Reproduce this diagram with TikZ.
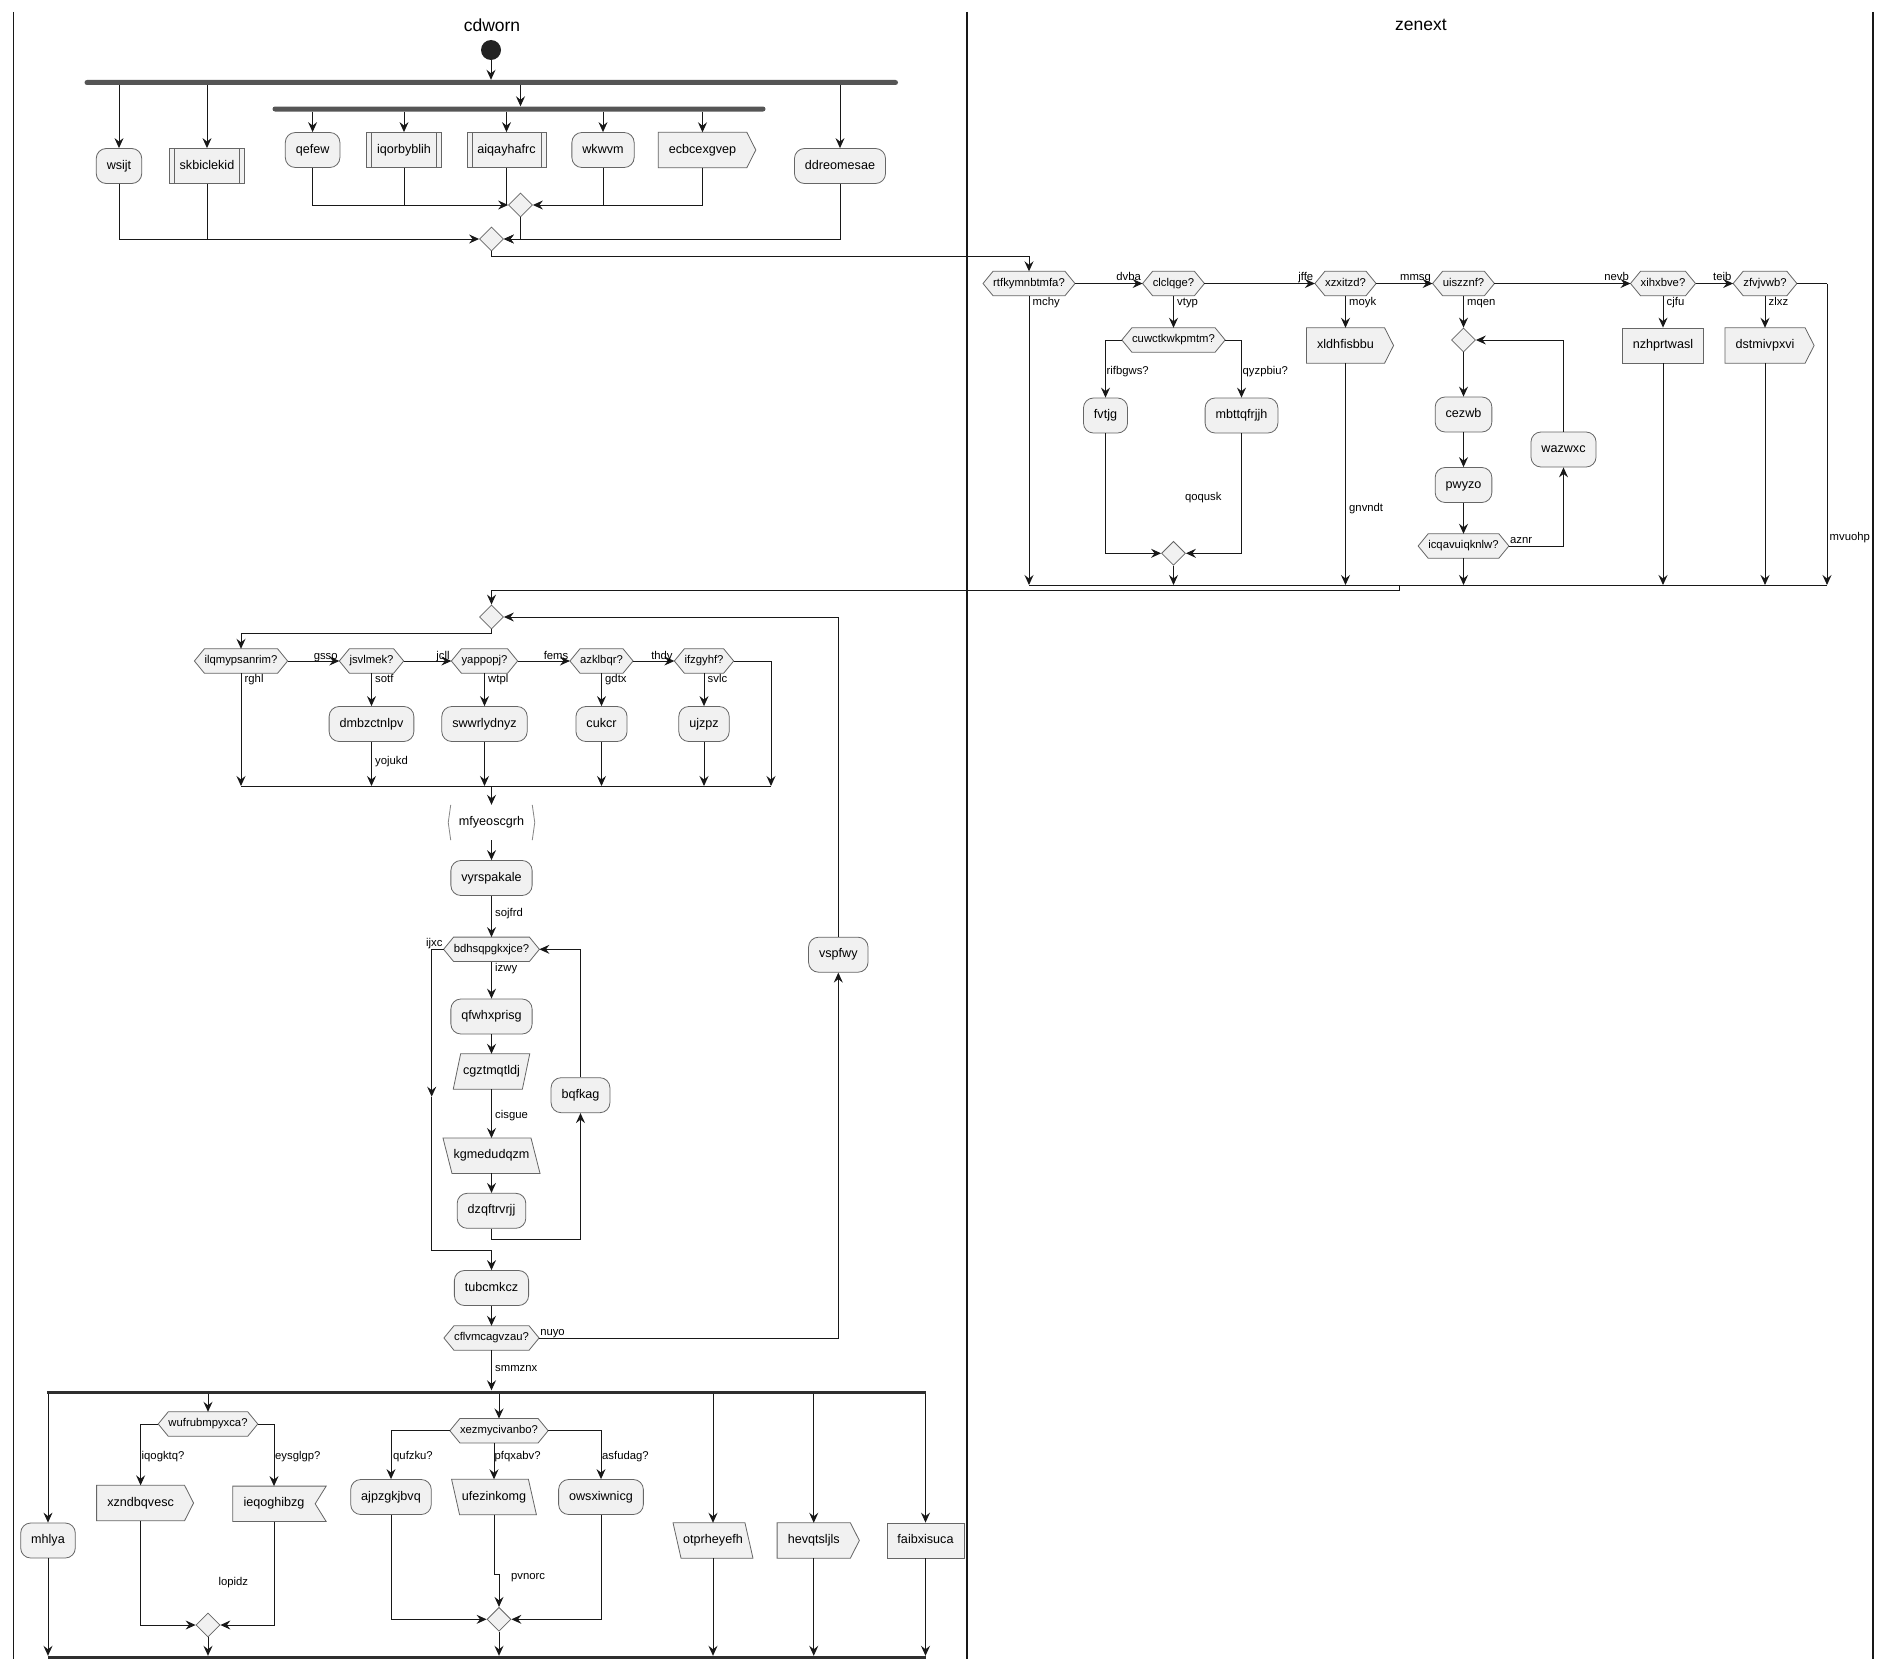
\documentclass[tikz,border=0pt]{standalone}
\usepackage{fontspec}
\setmainfont{Liberation Sans}
\usetikzlibrary{arrows.meta,calc,shapes.geometric}
\pgfdeclarelayer{bg}
\pgfdeclarelayer{paper}
\pgfsetlayers{paper,bg,main}

\definecolor{nfill}{HTML}{F1F1F1}
\definecolor{nline}{HTML}{666666}
\definecolor{wire}{HTML}{181818}
\definecolor{barc}{HTML}{555555}
\definecolor{startc}{HTML}{222222}

\tikzset{
  flow/.style={draw=wire, line width=1pt, -{Stealth[length=10pt,width=9pt,inset=3.5pt]}},
  link/.style={draw=wire, line width=1pt},
  lane/.style={draw=wire, line width=1.3pt},
  txt/.style={font=\fontsize{12.6}{15}\selectfont, text height=9pt, text depth=2.7pt,
              inner xsep=10.5pt, inner ysep=0pt, minimum height=35pt},
  act/.style={txt, draw=nline, fill=nfill, line width=0.8pt, rounded corners=10pt},
  boxnode/.style={txt, draw=nline, fill=nfill, line width=0.8pt},
  subbox/.style={boxnode, path picture={
      \draw[nline, line width=0.8pt]
        ([xshift=5pt]path picture bounding box.north west) -- ([xshift=5pt]path picture bounding box.south west)
        ([xshift=-5pt]path picture bounding box.north east) -- ([xshift=-5pt]path picture bounding box.south east);}},
  bare/.style={txt},
  dec/.style={font=\fontsize{11.3}{13}\selectfont, text height=8.1pt, text depth=2.4pt,
              inner xsep=0pt, inner ysep=0pt, minimum height=24pt},
  lbl/.style={font=\fontsize{11.3}{13}\selectfont, text height=8.1pt, text depth=2.4pt,
              inner sep=0pt, anchor=west},
  mergedia/.style={diamond, draw=nline, fill=nfill, line width=0.8pt,
                   minimum width=24pt, minimum height=24pt, inner sep=0pt},
  shp/.style={draw=nline, fill=nfill, line width=0.8pt},
  brk/.style={draw=nline!80, line width=0.8pt},
  forkbar/.style={rectangle, fill=barc, minimum height=5pt, inner sep=0pt, rounded corners=2.5pt},
  splitbar/.style={rectangle, fill=wire!90, minimum height=3pt, inner sep=0pt},
  lanetitle/.style={font=\fontsize{17.5}{20}\selectfont, inner sep=0pt},
  startdot/.style={circle, fill=startc, minimum size=20pt, inner sep=0pt},
}

% decision hexagon: text node plus outline with pointed ends
\newcommand\hexnode[4]{%
  \node[dec] (#1) at (#2,#3) {#4};
  \coordinate (#1-w) at ($(#1.west)+(-10,0)$);
  \coordinate (#1-e) at ($(#1.east)+(10,0)$);
  \begin{pgfonlayer}{bg}
    \draw[shp] (#1-w) -- (#1.north west) -- (#1.north east) -- (#1-e)
               -- (#1.south east) -- (#1.south west) -- cycle;
  \end{pgfonlayer}}
% box with a point on the right
\newcommand\sendnode[4]{%
  \node[bare] (#1) at (#2,#3) {#4};
  \begin{pgfonlayer}{bg}
    \draw[shp] (#1.north west) -- (#1.north east) -- ($(#1.east)+(9,0)$)
               -- (#1.south east) -- (#1.south west) -- cycle;
  \end{pgfonlayer}}
% box with a notch on the right
\newcommand\recvnode[4]{%
  \node[bare] (#1) at (#2,#3) {#4};
  \begin{pgfonlayer}{bg}
    \draw[shp] (#1.north west) -- ($(#1.north east)+(11,0)$) -- (#1.east)
               -- ($(#1.south east)+(11,0)$) -- (#1.south west) -- cycle;
  \end{pgfonlayer}}
% parallelogram, last argument is the half slant
\newcommand\slantnode[5]{%
  \node[bare, inner xsep=6pt] (#1) at (#2,#3) {#4};
  \begin{pgfonlayer}{bg}
    \draw[shp] ($(#1.north west)+(#5,0)$) -- ($(#1.north east)+(#5,0)$)
               -- ($(#1.south east)-(#5,0)$) -- ($(#1.south west)-(#5,0)$) -- cycle;
  \end{pgfonlayer}}
% text between two open angle strokes
\newcommand\brknode[4]{%
  \node[bare] (#1) at (#2,#3) {#4};
  \draw[brk] ($(#1.north west)+(2.5,0)$) -- (#1.west) -- ($(#1.south west)+(2.5,0)$)
             ($(#1.north east)+(-2.5,0)$) -- (#1.east) -- ($(#1.south east)+(-2.5,0)$);}

\begin{document}
\begin{tikzpicture}[x=1pt,y=-1pt]
\useasboundingbox (0,0) rectangle (1891,1670);
\begin{pgfonlayer}{paper}
  \fill[white] (0,0) rectangle (1891,1670);
\end{pgfonlayer}

% swimlane borders and titles
\draw[lane] (13.5,12) -- (13.5,1659);
\draw[lane] (967,12) -- (967,1659);
\draw[lane] (1873,12) -- (1873,1659);
\node[lanetitle] (tcd) at (492,25) {cdworn};
\node[lanetitle] (tze) at (1421,25) {zenext};

% ---------- cdworn: parallel start ----------
\node[startdot] (st) at (491,50) {};
\node[forkbar, minimum width=813.5pt] (f1) at (491.25,82.5) {};
\node[act] (wsijt) at (119,166) {wsijt};
\node[subbox] (skb) at (207,166) {skbiclekid};
\node[forkbar, minimum width=493pt] (f2) at (519,109) {};
\node[act] (qef) at (312.6,150) {qefew};
\node[subbox] (iqo) at (404,150) {iqorbyblih};
\node[subbox] (aiq) at (506.5,150) {aiqayhafrc};
\node[act] (wkw) at (603,150) {wkwvm};
\sendnode{ecb}{702.5}{150}{ecbcexgvep}
\node[act] (ddr) at (840,166) {ddreomesae};
\node[mergedia] (m1) at (520.5,205) {};
\node[mergedia] (m2) at (491.5,239) {};

\draw[flow] (st) -- (st |- f1.north);
\draw[flow] (f1.south -| wsijt) -- (wsijt);
\draw[flow] (f1.south -| skb) -- (skb);
\draw[flow] (f1.south -| m1) -- (f2.north -| m1);
\draw[flow] (f1.south -| ddr) -- (ddr);
\draw[flow] (f2.south -| qef) -- (qef);
\draw[flow] (f2.south -| iqo) -- (iqo);
\draw[flow] (f2.south -| aiq) -- (aiq);
\draw[flow] (f2.south -| wkw) -- (wkw);
\draw[flow] (f2.south -| ecb) -- (ecb);
\draw[flow] (qef) |- (m1.west);
\draw[link] (iqo) -- (iqo |- m1.west);
\draw[link] (aiq) -- (aiq |- m1.west);
\draw[flow] (ecb) |- (m1.east);
\draw[link] (wkw) -- (wkw |- m1.east);
\draw[flow] (wsijt) |- (m2.west);
\draw[link] (skb) -- (skb |- m2.west);
\draw[flow] (ddr) |- (m2.east);
\draw[flow] (m1) |- (m2.east);

% ---------- zenext ----------
\hexnode{rtf}{1029}{283.5}{rtfkymnbtmfa?}
\hexnode{clc}{1173.5}{283.5}{clclqge?}
\hexnode{xzx}{1345.5}{283.5}{xzxitzd?}
\hexnode{uis}{1463.5}{283.5}{uiszznf?}
\hexnode{xih}{1663}{283.5}{xihxbve?}
\hexnode{zfv}{1765}{283.5}{zfvjvwb?}
\hexnode{cuw}{1173.5}{340}{cuwctkwkpmtm?}
\node[act] (fvt) at (1105.5,415.5) {fvtjg};
\node[act] (mbt) at (1241.5,415.5) {mbttqfrjjh};
\node[mergedia] (m3) at (1173.5,553.3) {};
\sendnode{xld}{1345.5}{345.5}{xldhfisbbu}
\node[mergedia] (md1) at (1463.5,340) {};
\node[act] (cez) at (1463.5,414.5) {cezwb};
\node[act] (pwy) at (1463.5,485) {pwyzo};
\hexnode{icq}{1463.5}{546}{icqavuiqknlw?}
\node[act] (waz) at (1563.5,449.5) {wazwxc};
\node[boxnode] (nzh) at (1663,345.5) {nzhprtwasl};
\sendnode{dst}{1765}{345.5}{dstmivpxvi}

\coordinate (bot2) at (1000,585);
\coordinate (zcor) at (1827,283.5);
\coordinate (k1) at (1399.4,585);

\draw[flow] (m2) -- ++(0,17) -| (rtf.north);
\draw[flow] (rtf-e) -- (clc-w);
\draw[flow] (clc-e) -- (xzx-w);
\draw[flow] (xzx-e) -- (uis-w);
\draw[flow] (uis-e) -- (xih-w);
\draw[flow] (xih-e) -- (zfv-w);
\draw[link] (zfv-e) -- (zcor);
\draw[flow] (zcor) -- (zcor |- bot2);
\draw[flow] (rtf) -- (rtf |- bot2);
\draw[flow] (clc) -- (cuw);
\draw[flow] (cuw-w) -| (fvt.north);
\draw[flow] (cuw-e) -| (mbt.north);
\draw[flow] (fvt) |- (m3.west);
\draw[flow] (mbt) |- (m3.east);
\draw[flow] (m3) -- (m3 |- bot2);
\draw[flow] (xzx) -- (xld);
\draw[flow] (xld) -- (xld |- bot2);
\draw[flow] (uis) -- (md1);
\draw[flow] (md1) -- (cez);
\draw[flow] (cez) -- (pwy);
\draw[flow] (pwy) -- (icq);
\draw[flow] (icq-e) -| (waz.south);
\draw[flow] (waz.north) |- (md1.east);
\draw[flow] (icq) -- (icq |- bot2);
\draw[flow] (xih) -- (nzh);
\draw[flow] (nzh) -- (nzh |- bot2);
\draw[flow] (zfv) -- (dst);
\draw[flow] (dst) -- (dst |- bot2);
\draw[link] (rtf |- bot2) -- (zcor |- bot2);

\node[lbl, anchor=east] (ldvba) at ($(clc-w)+(-1.5,-5.5)$) {dvba};
\node[lbl, anchor=east] (ljffe) at ($(xzx-w)+(-1.5,-5.5)$) {jffe};
\node[lbl, anchor=east] (lmmsg) at ($(uis-w)+(-1.5,-5.5)$) {mmsg};
\node[lbl, anchor=east] (lnevb) at ($(xih-w)+(-1.5,-5.5)$) {nevb};
\node[lbl, anchor=east] (lteib) at ($(zfv-w)+(-1.5,-5.5)$) {teib};
\node[lbl] (lmchy) at (1032.5,303) {mchy};
\node[lbl] (lvtyp) at (1177,303) {vtyp};
\node[lbl] (lmoyk) at (1349,303) {moyk};
\node[lbl] (lmqen) at (1467,303) {mqen};
\node[lbl] (lcjfu) at (1666.5,303) {cjfu};
\node[lbl] (lzlxz) at (1768.5,303) {zlxz};
\node[lbl] (lrifb) at (1106.5,372) {rifbgws?};
\node[lbl] (lqyzp) at (1242.5,372) {qyzpbiu?};
\node[lbl, anchor=center] (lqoq) at (1203.3,497.7) {qoqusk};
\node[lbl] (lgnv) at (1349,509) {gnvndt};
\node[lbl] (laznr) at ($(icq-e)+(1,-5)$) {aznr};
\node[lbl] (lmvu) at (1829.5,538) {mvuohp};

% ---------- cdworn: loop body ----------
\node[mergedia] (md2) at (491.5,617) {};
\hexnode{ilq}{241}{661}{ilqmypsanrim?}
\hexnode{jsv}{371.5}{661}{jsvlmek?}
\hexnode{yap}{484.5}{661}{yappopj?}
\hexnode{azk}{601.5}{661}{azklbqr?}
\hexnode{ifz}{704}{661}{ifzgyhf?}
\node[act] (dmb) at (371.5,724) {dmbzctnlpv};
\node[act] (swr) at (484.5,724) {swwrlydnyz};
\node[act] (cuk) at (601.5,724) {cukcr};
\node[act] (ujz) at (704,724) {ujzpz};
\brknode{mfy}{491.5}{822.5}{mfyeoscgrh}
\node[act] (vyr) at (491.5,878) {vyrspakale};
\hexnode{bdh}{491.5}{949.3}{bdhsqpgkxjce?}
\node[act] (qfw) at (491.5,1016.5) {qfwhxprisg};
\slantnode{cgz}{491.5}{1071.5}{cgztmqtldj}{3.7}
\slantnode{kgm}{491.5}{1155.7}{kgmedudqzm}{-4.5}
\node[act] (dzq) at (491.5,1210.8) {dzqftrvrjj};
\node[act] (bqf) at (580.5,1095.2) {bqfkag};
\node[act] (tub) at (491.5,1288) {tubcmkcz};
\hexnode{cfl}{491.5}{1338}{cflvmcagvzau?}
\node[act] (vsp) at (838.3,954.7) {vspfwy};

\coordinate (bot1) at (200,786);
\coordinate (icor) at (771,661);
\coordinate (ja) at (431.7,1096.7);
\coordinate (jb) at (431.7,1250);

\draw[flow] (k1) -- ++(0,5) -| (md2.north);
\draw[flow] (md2) -- ++(0,16) -| (ilq.north);
\draw[flow] (ilq-e) -- (jsv-w);
\draw[flow] (jsv-e) -- (yap-w);
\draw[flow] (yap-e) -- (azk-w);
\draw[flow] (azk-e) -- (ifz-w);
\draw[flow] (ilq) -- (ilq |- bot1);
\draw[flow] (jsv) -- (dmb);
\draw[flow] (dmb) -- (dmb |- bot1);
\draw[flow] (yap) -- (swr);
\draw[flow] (swr) -- (swr |- bot1);
\draw[flow] (azk) -- (cuk);
\draw[flow] (cuk) -- (cuk |- bot1);
\draw[flow] (ifz) -- (ujz);
\draw[flow] (ujz) -- (ujz |- bot1);
\draw[link] (ifz-e) -- (icor);
\draw[flow] (icor) -- (icor |- bot1);
\draw[link] (ilq |- bot1) -- (icor |- bot1);
\draw[flow] (mfy |- bot1) -- (mfy);
\draw[flow] (mfy) -- (vyr);
\draw[flow] (vyr) -- (bdh);
\draw[flow] (bdh) -- (qfw);
\draw[flow] (qfw) -- (cgz);
\draw[flow] (cgz) -- (kgm);
\draw[flow] (kgm) -- (dzq);
\draw[flow] (dzq.south) -- ++(0,10.3) -| (bqf.south);
\draw[flow] (bqf.north) |- (bdh-e);
\draw[flow] (bdh-w) -| (ja);
\draw[flow] (ja) -- (jb) -| (tub.north);
\draw[flow] (tub) -- (cfl);
\draw[flow] (cfl-e) -| (vsp.south);
\draw[flow] (vsp.north) |- (md2.east);

\node[lbl, anchor=east] (lgsso) at ($(jsv-w)+(-1.5,-4.5)$) {gsso};
\node[lbl, anchor=east] (ljcll) at ($(yap-w)+(-1.5,-4.5)$) {jcll};
\node[lbl, anchor=east] (lfems) at ($(azk-w)+(-1.5,-4.5)$) {fems};
\node[lbl, anchor=east] (lthdy) at ($(ifz-w)+(-1.5,-4.5)$) {thdy};
\node[lbl] (lrghl) at (244.5,680) {rghl};
\node[lbl] (lsotf) at (375,680) {sotf};
\node[lbl] (lwtpl) at (488,680) {wtpl};
\node[lbl] (lgdtx) at (605,680) {gdtx};
\node[lbl] (lsvlc) at (707.5,680) {svlc};
\node[lbl] (lyoj) at (375,761.7) {yojukd};
\node[lbl] (lsoj) at (495,914) {sojfrd};
\node[lbl] (lizwy) at (495,969) {izwy};
\node[lbl, anchor=east] (lijxc) at ($(bdh-w)+(-1,-6)$) {ijxc};
\node[lbl] (lcis) at (495,1115.3) {cisgue};
\node[lbl] (lnuyo) at ($(cfl-e)+(1,-5.3)$) {nuyo};
\node[lbl] (lsmm) at (495,1369) {smmznx};

% ---------- cdworn: split at the end ----------
\node[splitbar, minimum width=879pt] (b3) at (486.5,1392) {};
\node[act] (mhl) at (48,1540.5) {mhlya};
\hexnode{wuf}{208}{1424}{wufrubmpyxca?}
\sendnode{xzn}{140.6}{1503}{xzndbqvesc}
\recvnode{ieq}{274}{1503.8}{ieqoghibzg}
\node[mergedia] (m5) at (208,1625) {};
\hexnode{xez}{499}{1430.7}{xezmycivanbo?}
\node[act] (ajp) at (391,1497) {ajpzgkjbvq};
\slantnode{ufe}{494}{1497}{ufezinkomg}{-4}
\node[act] (ows) at (601,1497) {owsxiwnicg};
\node[mergedia] (m6) at (499,1619.3) {};
\slantnode{otp}{713}{1540.5}{otprheyefh}{-4}
\sendnode{hev}{813.75}{1540.5}{hevqtsljls}
\node[boxnode] (fai) at (925.5,1540.5) {faibxisuca};
\node[splitbar, minimum width=878.5pt] (b4) at (487,1657.5) {};

\coordinate (u1) at (494,1574);
\coordinate (u2) at (499,1574);

\draw[flow] (cfl) -- (cfl |- b3.north);
\draw[flow] (b3.south -| mhl) -- (mhl);
\draw[flow] (b3.south -| wuf) -- (wuf);
\draw[flow] (b3.south -| xez) -- (xez);
\draw[flow] (b3.south -| otp) -- (otp);
\draw[flow] (b3.south -| hev) -- (hev);
\draw[flow] (b3.south -| fai) -- (fai);
\draw[flow] (wuf-w) -| (xzn.north);
\draw[flow] (wuf-e) -| (ieq.north);
\draw[flow] (xzn) |- (m5.west);
\draw[flow] (ieq) |- (m5.east);
\draw[flow] (m5) -- (m5 |- b4.north);
\draw[flow] (xez-w) -| (ajp.north);
\draw[flow] (xez-e) -| (ows.north);
\draw[flow] (xez.south -| ufe) -- (ufe);
\draw[flow] (ufe) -- (u1) -- (u2) -- (m6.north);
\draw[flow] (ajp) |- (m6.west);
\draw[flow] (ows) |- (m6.east);
\draw[flow] (m6) -- (m6 |- b4.north);
\draw[flow] (mhl) -- (mhl |- b4.north);
\draw[flow] (otp) -- (otp |- b4.north);
\draw[flow] (hev) -- (hev |- b4.north);
\draw[flow] (fai) -- (fai |- b4.north);

\node[lbl] (liqo) at (141.5,1456.7) {iqogktq?};
\node[lbl] (leys) at (275,1456.7) {eysglgp?};
\node[lbl, anchor=center] (llop) at (233.3,1582.5) {lopidz};
\node[lbl] (lquf) at (393,1456.7) {qufzku?};
\node[lbl] (lpfq) at (494.5,1456.7) {pfqxabv?};
\node[lbl] (lasf) at (602,1456.7) {asfudag?};
\node[lbl] (lpvn) at (511,1576.7) {pvnorc};
\end{tikzpicture}
\end{document}
